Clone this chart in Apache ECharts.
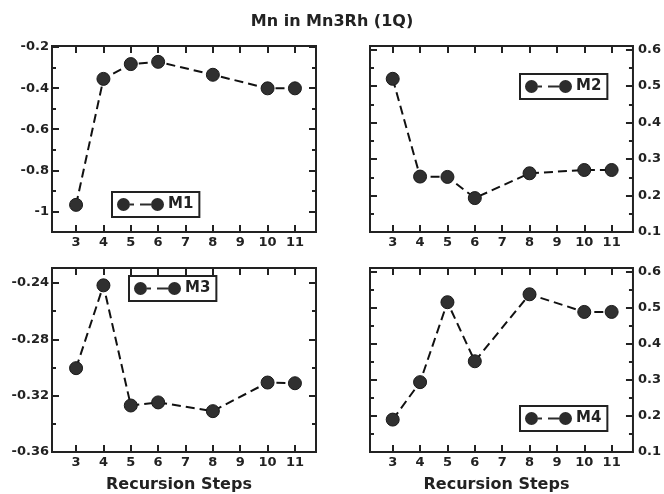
<!DOCTYPE html>
<html>
<head>
<meta charset="utf-8">
<script src="https://cdn.jsdelivr.net/npm/echarts@6/dist/echarts.min.js"></script>
<style>html,body{margin:0;padding:0;background:#fff}#c{width:664px;height:494px}</style>
</head>
<body>
<div id="c"></div>
<script>
// ---- data ----
const titleText = 'Mn in Mn3Rh (1Q)';
const xName = 'Recursion Steps';
const steps = [3, 4, 5, 6, 8, 10, 11];
const xTicks = [3, 4, 5, 6, 7, 8, 9, 10, 11];
const seriesNames = ['M1', 'M2', 'M3', 'M4'];
const m1 = [-0.968, -0.355, -0.283, -0.272, -0.335, -0.401, -0.401];
const m2 = [0.520, 0.252, 0.251, 0.193, 0.261, 0.270, 0.270];
const m3 = [-0.3005, -0.2417, -0.327, -0.3248, -0.331, -0.3107, -0.3112];
const m4 = [0.190, 0.294, 0.516, 0.352, 0.538, 0.489, 0.489];
const yMajor1 = [-1, -0.8, -0.6, -0.4, -0.2];
const yMinor1 = [-0.9, -0.7, -0.5, -0.3];
const yMajor2 = [0.1, 0.2, 0.3, 0.4, 0.5, 0.6];
const yMinor2 = [0.15, 0.25, 0.35, 0.45, 0.55];
const yMajor3 = [-0.36, -0.32, -0.28, -0.24];
const yMinor3 = [-0.34, -0.30, -0.26];
const yMajor4 = [0.1, 0.2, 0.3, 0.4, 0.5, 0.6];
const yMinor4 = [0.15, 0.25, 0.35, 0.45, 0.55];

// ---- layout / style ----
const FONT = 'DejaVu Sans';
const INK = '#222';
const panels = [
  {vals: m1, major: yMajor1, minor: yMinor1, ymin: -1.1, ymax: -0.195, xmin: 2.12, xmax: 11.77,
   grid: {left: 52, top: 46, width: 264, height: 186}, side: 'left', xname: false, leg: {left: 112, top: 192}},
  {vals: m2, major: yMajor2, minor: yMinor2, ymin: 0.1, ymax: 0.61, xmin: 2.17, xmax: 11.78,
   grid: {left: 370, top: 46, width: 264, height: 186}, side: 'right', xname: false, leg: {left: 520, top: 74}},
  {vals: m3, major: yMajor3, minor: yMinor3, ymin: -0.36, ymax: -0.2294, xmin: 2.12, xmax: 11.77,
   grid: {left: 52, top: 268, width: 264, height: 186}, side: 'left', xname: true, leg: {left: 129, top: 276}},
  {vals: m4, major: yMajor4, minor: yMinor4, ymin: 0.1, ymax: 0.611, xmin: 2.17, xmax: 11.78,
   grid: {left: 370, top: 268, width: 264, height: 186}, side: 'right', xname: true, leg: {left: 520, top: 406}}
];

// marker fill pattern
const pc = document.createElement('canvas');
pc.width = 3; pc.height = 3;
const pctx = pc.getContext('2d');
pctx.fillStyle = '#303030'; pctx.fillRect(0, 0, 3, 3);
pctx.fillStyle = '#7a7a7a'; pctx.fillRect(1, 1, 1, 1);
const markerFill = {image: pc, repeat: 'repeat'};

const legendIcon = 'path://M0,6.5 A6.5,6.5 0 1,1 13,6.5 A6.5,6.5 0 1,1 0,6.5 Z M13,5.5 L17,5.5 L17,7.5 L13,7.5 Z M23,5.5 L34,5.5 L34,7.5 L23,7.5 Z M34,6.5 A6.5,6.5 0 1,1 47,6.5 A6.5,6.5 0 1,1 34,6.5 Z';

const grids = [], xAxes = [], yAxes = [], series = [], legends = [];
const tickStyle = {color: INK, width: 2};
const labelStyle = {fontFamily: FONT, fontWeight: 'bold', fontSize: 13, color: INK};

panels.forEach((p, g) => {
  grids.push(Object.assign({show: true, borderColor: INK, borderWidth: 2, backgroundColor: 'transparent'}, p.grid));
  xAxes.push({
    gridIndex: g, type: 'value', position: 'bottom', min: p.xmin, max: p.xmax,
    axisLine: {show: false, onZero: false}, splitLine: {show: false},
    axisTick: {show: true, inside: true, length: 7, lineStyle: tickStyle, customValues: xTicks},
    axisLabel: Object.assign({show: true, margin: 4, customValues: xTicks}, labelStyle),
    name: p.xname ? xName : '', nameLocation: 'middle', nameGap: 25,
    nameTextStyle: {fontFamily: FONT, fontWeight: 'bold', fontSize: 16, color: INK, padding: [0, 10, 0, 0]}
  });
  xAxes.push({
    gridIndex: g, type: 'value', position: 'top', min: p.xmin, max: p.xmax,
    axisLine: {show: false, onZero: false}, splitLine: {show: false},
    axisTick: {show: true, inside: true, length: 7, lineStyle: tickStyle, customValues: xTicks},
    axisLabel: {show: false}
  });
  const other = p.side === 'left' ? 'right' : 'left';
  const mk = (pos, vals, len, showLabel) => ({
    gridIndex: g, type: 'value', position: pos, min: p.ymin, max: p.ymax,
    axisLine: {show: false, onZero: false}, splitLine: {show: false},
    axisTick: {show: true, inside: true, length: len, lineStyle: tickStyle, customValues: vals},
    axisLabel: showLabel ? Object.assign({show: true, margin: pos === 'left' ? 3 : 5, customValues: vals}, labelStyle) : {show: false}
  });
  yAxes.push(mk(p.side, p.major, 7, true));
  yAxes.push(mk(p.side, p.minor, 4, false));
  yAxes.push(mk(other, p.major, 7, false));
  yAxes.push(mk(other, p.minor, 4, false));

  series.push({
    name: seriesNames[g], type: 'line', xAxisIndex: 2 * g, yAxisIndex: 4 * g,
    data: steps.map((s, i) => [s, p.vals[i]]),
    symbol: 'circle', symbolSize: 13,
    lineStyle: {color: '#111', width: 2, type: [9, 5]},
    itemStyle: {color: markerFill, borderColor: '#1a1a1a', borderWidth: 1},
    emphasis: {disabled: true}
  });
  legends.push({
    data: [seriesNames[g]], left: p.leg.left, top: p.leg.top,
    orient: 'horizontal', itemWidth: 47, itemHeight: 13, itemGap: 0,
    icon: legendIcon, borderColor: INK, borderWidth: 2, borderRadius: 0,
    padding: [5, 6, 5, 5], selectedMode: false,
    itemStyle: {color: '#2c2c2c', borderWidth: 0},
    textStyle: {fontFamily: FONT, fontWeight: 'bold', fontSize: 15, color: INK, padding: [0, 0, 0, -1]}
  });
});

const chart = echarts.init(document.getElementById('c'), null, {renderer: 'canvas'});
chart.setOption({
  backgroundColor: '#fff',
  animation: false,
  title: {text: titleText, left: 'center', top: 9,
    textStyle: {fontFamily: FONT, fontWeight: 'bold', fontSize: 16, color: INK}},
  legend: legends,
  grid: grids,
  xAxis: xAxes,
  yAxis: yAxes,
  series: series
});
</script>
</body>
</html>
